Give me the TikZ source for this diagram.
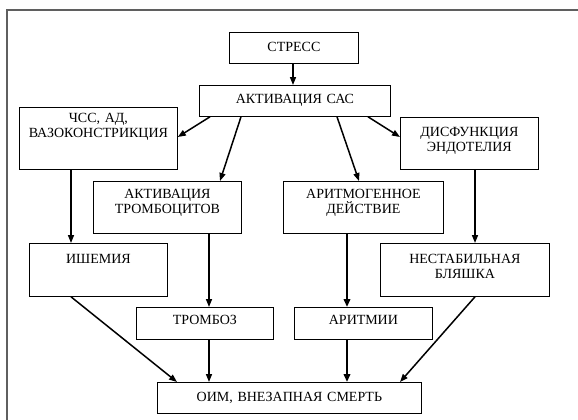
\documentclass[tikz,border=0pt]{standalone}
\usepackage{fontspec}
\setmainfont{Liberation Serif}
\usetikzlibrary{arrows.meta,calc}
\begin{document}
\begin{tikzpicture}[x=1pt,y=-1pt,
  bx/.style n args={4}{draw, line width=0.8pt, anchor=north west, inner xsep=0pt, inner ysep=0pt,
     minimum width=#1, text width=#1, align=center, text height=#3, text depth=#4,
     font=\rmfamily\fontsize{14}{15.5}\selectfont},
  ar/.style={line width=1.5pt, -{Triangle[length=8pt,width=6pt]}},
  tar/.style={line width=2.4pt, -{Triangle[length=8pt,width=6.5pt]}},
  frm/.style={line width=1.6pt, draw={rgb,255:red,95;green,95;blue,95}}]
\useasboundingbox (0,0) rectangle (578,420);
\coordinate (ftl) at (7,10);
\coordinate (ftr) at (578,10);
\coordinate (fbl) at (7,420);
\draw[frm] (fbl) -- (ftl) -- (ftr);

\node[bx={129}{31}{19}{12}] (stress) at (229,32) {СТРЕСС};
\node[bx={191}{31}{18}{13}] (sas) at (199,85) {АКТИВАЦИЯ САС};
\node[bx={158}{62}{15}{47}] (chss) at (19,107) {ЧСС, АД,\\ВАЗОКОНСТРИКЦИЯ};
\node[bx={138}{52}{19}{33}] (dysf) at (400,117) {ДИСФУНКЦИЯ\\ЭНДОТЕЛИЯ};
\node[bx={148}{52}{17}{35}] (tract) at (93,181) {АКТИВАЦИЯ\\ТРОМБОЦИТОВ};
\node[bx={160}{52}{17}{35}] (argen) at (283,181) {АРИТМОГЕННОЕ\\ДЕЙСТВИЕ};
\node[bx={138}{53}{20}{33}] (ishem) at (29,243) {ИШЕМИЯ};
\node[bx={169}{53}{20}{33}] (nestab) at (380,243) {НЕСТАБИЛЬНАЯ\\БЛЯШКА};
\node[bx={137}{32}{17}{15}] (tromb) at (136,307) {ТРОМБОЗ};
\node[bx={138}{32}{17}{15}] (aritm) at (294,307) {АРИТМИИ};
\node[bx={264}{31}{19}{12}] (oim) at (157,382) {ОИМ, ВНЕЗАПНАЯ СМЕРТЬ};

\draw[ar] ($(stress.south west)+(64,0)$) -- ($(sas.north west)+(94,0)$);
\draw[ar] ($(sas.south west)+(11,0)$) -- ($(chss.north east)+(0,30)$);
\draw[ar] ($(sas.south west)+(42,0)$) -- ($(tract.north west)+(127,0)$);
\draw[ar] ($(sas.south west)+(138,0)$) -- ($(argen.north west)+(76,0)$);
\draw[ar] ($(sas.south west)+(169,0)$) -- ($(dysf.north west)+(0,20)$);
\draw[ar] ($(chss.south west)+(52,0)$) -- ($(ishem.north west)+(42,0)$);
\draw[ar] ($(dysf.south west)+(75,0)$) -- ($(nestab.north west)+(95,0)$);
\draw[ar] ($(tract.south west)+(116,0)$) -- ($(tromb.north west)+(73,0)$);
\draw[tar] ($(argen.south west)+(64,0)$) -- ($(aritm.north west)+(53,0)$);
\draw[ar] ($(ishem.south west)+(42,0)$) -- ($(oim.north west)+(20,0)$);
\draw[ar] ($(tromb.south west)+(73,0)$) -- ($(oim.north west)+(52,0)$);
\draw[tar] ($(aritm.south west)+(53,0)$) -- ($(oim.north west)+(190,0)$);
\draw[ar] ($(nestab.south west)+(95,0)$) -- ($(oim.north west)+(243,0)$);
\end{tikzpicture}
\end{document}
